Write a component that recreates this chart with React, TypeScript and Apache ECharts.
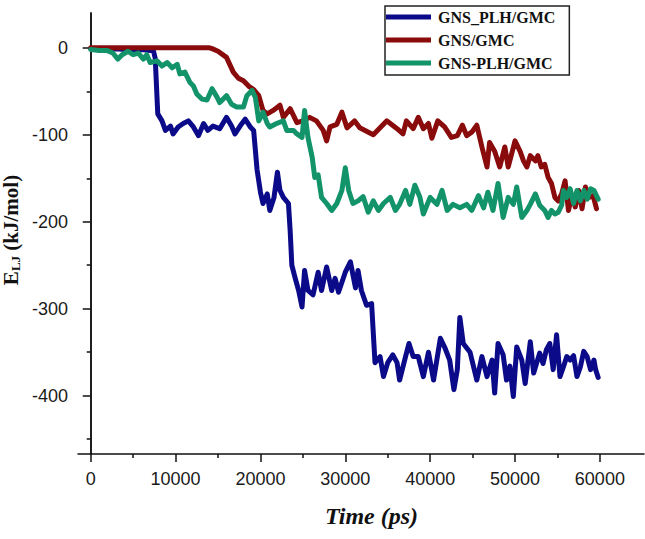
import React, { useEffect, useRef } from "react";
import * as echarts from "echarts";

const seriesNames = ["GNS_PLH/GMC", "GNS/GMC", "GNS-PLH/GMC"];
const seriesColors = ["#0b0b8a", "#8a0b0b", "#13936a"];

const xMajorTicks = [0, 10000, 20000, 30000, 40000, 50000, 60000];
const xMinorTicks = [5000, 15000, 25000, 35000, 45000, 55000];
const yMajorTicks = [0, -100, -200, -300, -400];
const yMinorTicks = [-50, -150, -250, -350, -450];

const blueData: [number, number][] = [
  [0, -1], [1000, -2], [2000, -2], [3000, -1], [4000, -2], [5000, -3], [6000, -2], [7000, -3], [7400, -4], [7600, -12],
  [7900, -76], [8400, -84], [8800, -95], [9400, -90], [9700, -99], [10300, -91], [10900, -87], [11500, -84], [12100, -91],
  [12700, -101], [13300, -87], [13800, -95], [14400, -90], [15200, -93], [16000, -80], [16600, -90], [17000, -99],
  [17600, -90], [18200, -82], [18800, -91], [19200, -95], [19600, -140], [20000, -166], [20300, -179], [20800, -168],
  [21100, -187], [21600, -172], [22000, -143], [22300, -164], [22700, -172], [23300, -179], [23500, -210], [23700, -250],
  [24100, -265], [24500, -279], [24900, -298], [25200, -256], [25600, -279], [26200, -284], [26800, -258], [27200, -279],
  [27800, -252], [28400, -279], [28800, -265], [29200, -281], [30000, -258], [30600, -246], [31200, -276], [31500, -256],
  [31900, -279], [32500, -296], [33100, -294], [33300, -328], [33500, -362], [34100, -355], [34500, -378], [35000, -362],
  [35600, -353], [36100, -362], [36400, -382], [37100, -355], [37500, -340], [38000, -355], [38600, -355], [39200, -378],
  [39800, -350], [40400, -382], [41200, -334], [41700, -344], [42300, -359], [42800, -393], [43200, -370], [43500, -310],
  [43900, -340], [44700, -350], [45500, -382], [46100, -355], [46700, -378], [47300, -359], [47600, -397], [48000, -340],
  [48600, -353], [49000, -382], [49400, -366], [49800, -401], [50200, -344], [50800, -359], [51200, -386], [51800, -338],
  [52200, -374], [52900, -351], [53300, -363], [53700, -347], [54100, -340], [54500, -370], [54900, -330], [55300, -378],
  [55700, -367], [56100, -355], [56500, -359], [56900, -354], [57300, -378], [57700, -367], [58100, -349], [58500, -355],
  [58900, -370], [59300, -359], [59500, -370], [59800, -379],
];

const redData: [number, number][] = [
  [0, 0], [2000, 0], [4000, 0], [6000, 0], [8000, 0], [10000, 0], [12000, 0], [14000, 0], [14300, -1], [15000, -4],
  [16000, -11], [16800, -28], [17400, -35], [18000, -38], [18600, -44], [19200, -48], [19800, -55], [20300, -72],
  [20800, -76], [21500, -72], [22300, -66], [22700, -80], [23500, -70], [24300, -86], [25000, -84], [25800, -80],
  [26600, -84], [27400, -95], [27800, -107], [28200, -91], [29000, -88], [29600, -74], [30200, -92], [31100, -84],
  [31700, -92], [32500, -96], [33300, -100], [34100, -92], [34900, -84], [35300, -87], [36100, -93], [36800, -99],
  [37200, -84], [38000, -93], [38600, -80], [39200, -93], [39800, -87], [40200, -104], [40900, -84], [41700, -91],
  [42500, -103], [43200, -101], [43800, -89], [44300, -101], [44900, -97], [45500, -89], [46100, -114], [46700, -137],
  [47000, -109], [47600, -119], [48200, -137], [48800, -114], [49200, -137], [50000, -107], [50600, -119], [51000, -130],
  [51400, -137], [51800, -124], [52400, -130], [52700, -124], [53100, -137], [53500, -134], [53900, -149], [54300, -156],
  [54700, -172], [55100, -176], [55500, -168], [55900, -153], [56300, -187], [56700, -170], [57100, -183], [57500, -164],
  [57900, -185], [58300, -160], [58700, -172], [59200, -170], [59600, -185],
];

const greenData: [number, number][] = [
  [0, -2], [1000, -3], [1900, -3], [2600, -6], [3200, -13], [3700, -8], [4400, -4], [5000, -8], [5600, -6], [6200, -13],
  [6600, -8], [7000, -17], [7800, -15], [8400, -21], [9000, -17], [9600, -23], [10200, -19], [10500, -30], [11100, -28],
  [11700, -40], [12100, -44], [12500, -53], [13100, -59], [13700, -60], [14300, -47], [14900, -57], [15200, -63],
  [16000, -55], [16600, -65], [17200, -68], [18000, -68], [18400, -55], [19000, -49], [19400, -57], [19800, -84],
  [20300, -74], [20800, -87], [21100, -91], [21900, -87], [22700, -84], [23100, -95], [23900, -95], [24300, -99],
  [24900, -103], [25200, -72], [25600, -103], [26100, -126], [26400, -149], [26800, -146], [27200, -172], [27800, -179],
  [28400, -187], [29000, -179], [29600, -164], [30000, -138], [30400, -164], [30900, -179], [31500, -176], [32100, -171],
  [32700, -189], [33300, -176], [33900, -187], [34500, -179], [35300, -172], [35900, -187], [36400, -180], [37100, -164],
  [37600, -180], [38200, -158], [38800, -172], [39200, -191], [40000, -172], [40800, -180], [41400, -164], [42000, -187],
  [42700, -180], [43500, -184], [44300, -180], [44900, -187], [45700, -170], [46300, -184], [46800, -166], [47400, -187],
  [48000, -156], [48600, -195], [49200, -172], [49800, -180], [50200, -160], [50800, -195], [51400, -187], [51800, -180],
  [52400, -168], [52900, -181], [53500, -187], [53900, -195], [54300, -187], [54700, -191], [55100, -189], [55500, -181],
  [55700, -164], [56100, -172], [56500, -162], [56900, -179], [57300, -164], [57700, -176], [58100, -164], [58500, -174],
  [58900, -162], [59300, -164], [59800, -174],
];

const X_MIN = -1500;
const X_MAX = 65200;
const Y_MIN = -467;
const Y_MAX = 40;

export default function App() {
  const ref = useRef<HTMLDivElement>(null);

  useEffect(() => {
    if (!ref.current) return;
    const chart = echarts.init(ref.current, undefined, { renderer: "svg" });
    const axisColor = "#111";
    const serif = "Liberation Serif, Times New Roman, serif";
    const labelFont = {
      fontFamily: "Liberation Sans, Arial, sans-serif",
      fontSize: 18,
      color: "#1a1a1a",
    };
    const option: any = {
      animation: false,
      backgroundColor: "#ffffff",
      grid: { left: 78, right: 1, top: 13, bottom: 85, containLabel: false, outerBoundsMode: "none" },
      legend: {
        left: 385,
        top: 6,
        orient: "vertical",
        padding: [3, 14, 4, 1],
        itemGap: 7,
        itemWidth: 45,
        itemHeight: 5,
        borderColor: "#222",
        borderWidth: 1.5,
        data: seriesNames.map((n) => ({ name: n, icon: "rect" })),
        textStyle: {
          fontFamily: serif,
          fontWeight: "bold",
          fontSize: 16,
          color: "#111",
          padding: [0, 0, 0, 2],
        },
      },
      graphic: [
        {
          type: "text",
          x: 11,
          y: 230,
          rotation: Math.PI / 2,
          style: {
            text: "{e|E}{s|LJ}{e| (kJ/mol)}",
            align: "center",
            verticalAlign: "middle",
            rich: {
              e: { fontFamily: serif, fontWeight: "bold", fontSize: 21, fill: "#111" },
              s: {
                fontFamily: serif,
                fontWeight: "bold",
                fontSize: 13,
                fill: "#111",
                verticalAlign: "bottom",
                padding: [8, 0, 0, 0],
              },
            },
          },
        },
      ],
      xAxis: [
        {
          type: "value",
          min: X_MIN,
          max: X_MAX,
          name: "Time (ps)",
          nameLocation: "middle",
          nameGap: 50,
          nameTextStyle: {
            fontFamily: serif,
            fontWeight: "bold",
            fontStyle: "italic",
            fontSize: 24,
            color: "#111",
            padding: [0, 0, 0, 21],
          },
          axisLine: { show: true, onZero: false, lineStyle: { color: axisColor, width: 1.5 } },
          axisTick: { show: true, customValues: xMajorTicks, length: 8, lineStyle: { color: axisColor, width: 1.5 } },
          axisLabel: {
            show: true,
            customValues: xMajorTicks,
            margin: 16,
            formatter: (v: number) => String(v),
            ...labelFont,
          },
          splitLine: { show: false },
        },
        {
          type: "value",
          min: X_MIN,
          max: X_MAX,
          position: "bottom",
          axisLine: { show: false, onZero: false },
          axisTick: { show: true, customValues: xMinorTicks, length: 4, lineStyle: { color: axisColor, width: 1.5 } },
          axisLabel: { show: false },
          splitLine: { show: false },
        },
      ],
      yAxis: [
        {
          type: "value",
          min: Y_MIN,
          max: Y_MAX,
          axisLine: { show: true, onZero: true, lineStyle: { color: axisColor, width: 1.5 } },
          axisTick: { show: true, customValues: yMajorTicks, length: 8, lineStyle: { color: axisColor, width: 1.5 } },
          axisLabel: {
            show: true,
            customValues: yMajorTicks,
            margin: 10,
            formatter: (v: number) => String(v),
            ...labelFont,
          },
          splitLine: { show: false },
        },
        {
          type: "value",
          min: Y_MIN,
          max: Y_MAX,
          position: "left",
          axisLine: { show: true, onZero: true, lineStyle: { color: axisColor, width: 1.5 } },
          axisTick: { show: true, customValues: yMinorTicks, length: 4, lineStyle: { color: axisColor, width: 1.5 } },
          axisLabel: { show: false },
          splitLine: { show: false },
        },
      ],
      series: [blueData, redData, greenData].map((d, i) => ({
        name: seriesNames[i],
        type: "line",
        xAxisIndex: 0,
        yAxisIndex: 0,
        data: d,
        showSymbol: false,
        symbol: "none",
        color: seriesColors[i],
        lineStyle: { color: seriesColors[i], width: 5, join: "round", cap: "round" },
        itemStyle: { color: seriesColors[i] },
        z: 2 + i,
      })),
    };
    chart.setOption(option);
    return () => chart.dispose();
  }, []);

  return (
    <div
      ref={ref}
      style={{ position: "absolute", left: 0, top: 0, width: 645, height: 539, background: "#fff" }}
    />
  );
}
